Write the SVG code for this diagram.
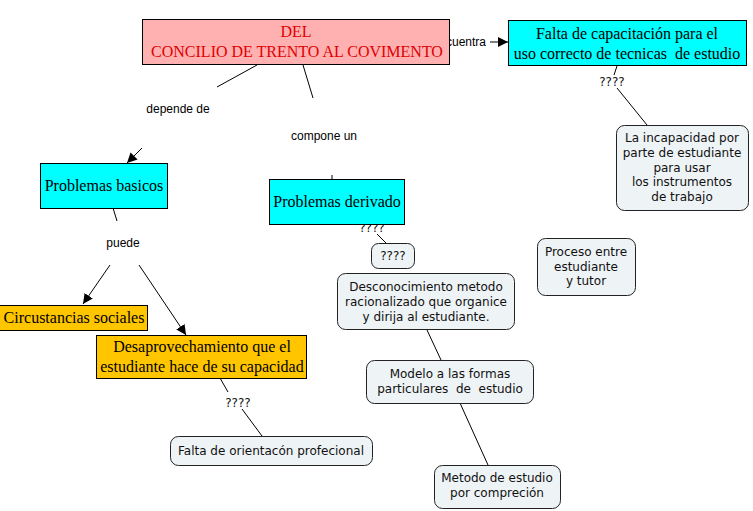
<svg xmlns="http://www.w3.org/2000/svg" width="753" height="511" viewBox="0 0 753 511">
<style>
.sq{stroke:#000;stroke-width:1}
.rd{fill:#EEF3F6;stroke:#222;stroke-width:1}
text{white-space:pre}
.serif{font-family:"Liberation Serif","Times New Roman",serif;font-size:16px;text-anchor:middle;fill:#000}
.sans{font-family:"DejaVu Sans",Verdana,sans-serif;font-size:12px;text-anchor:middle;fill:#111}
.lbl{font-family:"Liberation Sans",Arial,sans-serif;font-size:12px;text-anchor:middle;fill:#000}
.ln{stroke:#000;stroke-width:1;fill:none}
</style>
<defs>
<marker id="ah" viewBox="0 0 10 10" refX="10" refY="5" markerWidth="10" markerHeight="10" markerUnits="userSpaceOnUse" orient="auto">
<path d="M0,0 L10,5 L0,10 z" fill="#000"/>
</marker>
</defs>
<rect width="753" height="511" fill="#fff"/>
<g id="connectors">
<line class="ln" x1="257" y1="65" x2="217" y2="87"/>
<line class="ln" x1="142" y1="148" x2="127" y2="163" marker-end="url(#ah)"/>
<line class="ln" x1="303" y1="65" x2="313" y2="98"/>
<line class="ln" x1="332" y1="175" x2="332" y2="179"/>
<line class="ln" x1="490" y1="42" x2="508" y2="42" marker-end="url(#ah)"/>
<line class="ln" x1="617" y1="66" x2="614" y2="75"/>
<line class="ln" x1="617" y1="88" x2="647" y2="125"/>
<line class="ln" x1="113" y1="208" x2="117" y2="221"/>
<line class="ln" x1="110" y1="265" x2="83" y2="304" marker-end="url(#ah)"/>
<line class="ln" x1="139" y1="265" x2="186" y2="335" marker-end="url(#ah)"/>
<line class="ln" x1="220" y1="378" x2="228" y2="392"/>
<line class="ln" x1="242" y1="409" x2="262" y2="436"/>
<line class="ln" x1="377" y1="234" x2="386" y2="243"/>
<line class="ln" x1="427" y1="330" x2="441" y2="360"/>
<line class="ln" x1="460" y1="403" x2="488" y2="465"/>
<text class="lbl" x="486" y="46" style="text-anchor:end">cuentra</text>
<text class="lbl" x="178" y="113">depende de</text>
<text class="lbl" x="324" y="140">compone un</text>
<text class="lbl" x="123" y="247">puede</text>
<text class="sans" x="612" y="86">????</text>
<text class="sans" x="238" y="407">????</text>
<text class="sans" x="372" y="232">????</text>
</g>
<g id="main">
<rect class="sq" x="142.5" y="19.5" width="307" height="45" fill="#FFB0B0"/>
<text class="serif" x="296" y="37" style="fill:#E00000">DEL</text>
<text class="serif" x="297" y="57" style="fill:#E00000">CONCILIO DE TRENTO AL COVIMENTO</text>
</g>
<g id="falta-capacitacion">
<rect class="sq" x="508.5" y="20.5" width="238" height="45" fill="#00FFFF"/>
<text class="serif" x="627" y="39">Falta de capacitación para el</text>
<text class="serif" x="627" y="59">uso correcto de tecnicas  de estudio</text>
</g>
<g id="incapacidad">
<rect class="rd" x="616.5" y="125.5" width="132" height="85" rx="8"/>
<text class="sans" x="682" y="142">La incapacidad por</text>
<text class="sans" x="682" y="157">parte de estudiante</text>
<text class="sans" x="682" y="172">para usar</text>
<text class="sans" x="682" y="186">los instrumentos</text>
<text class="sans" x="682" y="201">de trabajo</text>
</g>
<g id="proceso">
<rect class="rd" x="537.5" y="238.5" width="98" height="57" rx="8"/>
<text class="sans" x="586" y="256">Proceso entre</text>
<text class="sans" x="586" y="271">estudiante</text>
<text class="sans" x="586" y="285">y tutor</text>
</g>
<g id="problemas-basicos">
<rect class="sq" x="40.5" y="163.5" width="127" height="45" fill="#00FFFF"/>
<text class="serif" x="104" y="191">Problemas basicos</text>
</g>
<g id="problemas-derivado">
<rect class="sq" x="269.5" y="179.5" width="135" height="45" fill="#00FFFF"/>
<text class="serif" x="337" y="207">Problemas derivado</text>
</g>
<g id="qqqq">
<rect class="rd" x="371.5" y="243.5" width="43" height="25" rx="7"/>
<text class="sans" x="393" y="260">????</text>
</g>
<g id="desconocimiento">
<rect class="rd" x="337.5" y="273.5" width="177" height="56" rx="8"/>
<text class="sans" x="426" y="291">Desconocimiento metodo</text>
<text class="sans" x="426" y="306">racionalizado que organice</text>
<text class="sans" x="426" y="321">y dirija al estudiante.</text>
</g>
<g id="modelo">
<rect class="rd" x="366.5" y="360.5" width="167" height="43" rx="8"/>
<text class="sans" x="450" y="378">Modelo a las formas</text>
<text class="sans" x="450" y="393">particulares  de  estudio</text>
</g>
<g id="metodo">
<rect class="rd" x="434.5" y="465.5" width="126" height="43" rx="8"/>
<text class="sans" x="497" y="482">Metodo de estudio</text>
<text class="sans" x="497" y="497">por compreción</text>
</g>
<g id="circunstancias">
<rect class="sq" x="-0.5" y="305.5" width="148" height="25" fill="#FFC600"/>
<text class="serif" x="74" y="323">Circustancias sociales</text>
</g>
<g id="desaprovechamiento">
<rect class="sq" x="96.5" y="335.5" width="210" height="43" fill="#FFC600"/>
<text class="serif" x="202" y="352">Desaprovechamiento que el</text>
<text class="serif" x="202" y="372">estudiante hace de su capacidad</text>
</g>
<g id="falta-orientacion">
<rect class="rd" x="170.5" y="436.5" width="202" height="29" rx="8"/>
<text class="sans" x="271" y="455">Falta de orientacón profecional</text>
</g>
</svg>
